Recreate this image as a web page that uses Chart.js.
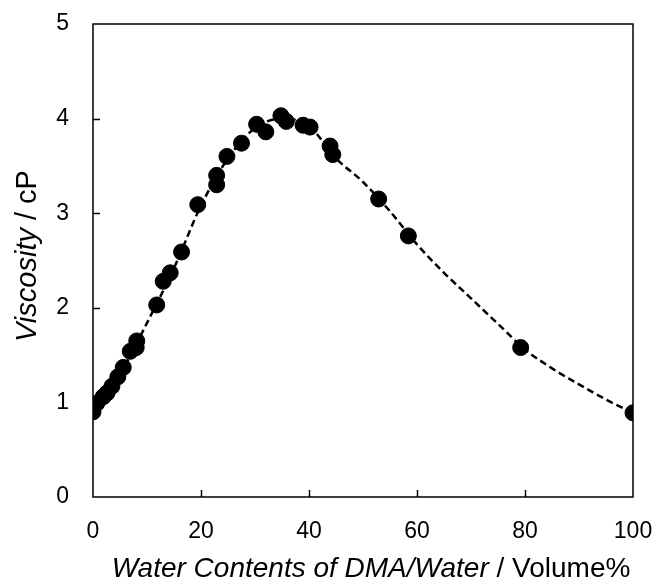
<!DOCTYPE html>
<html>
<head>
<meta charset="utf-8">
<script src="https://cdn.jsdelivr.net/npm/chart.js@4/dist/chart.umd.min.js"></script>
<style>
  html, body { margin: 0; padding: 0; background: #fff; }
  #wrap { width: 659px; height: 582px; }
</style>
</head>
<body>
<div id="wrap"><canvas id="myChart" width="659" height="582"></canvas></div>
<script>
// measured points: water content (vol%) and viscosity (cP)
var waterPct = [0, 0.7, 1.9, 2.6, 3.5, 4.6, 5.6, 6.9, 8.0, 8.1, 11.8, 13.0, 14.3, 16.4,
  19.4, 22.9, 22.9, 24.8, 27.5, 30.3, 32.0, 34.8, 35.8, 38.9, 40.2, 43.9, 44.4,
  52.9, 58.4, 79.2, 100];
var viscosity = [0.90, 0.99, 1.06, 1.10, 1.17, 1.27, 1.37, 1.54, 1.58, 1.65, 2.03, 2.28, 2.37, 2.59,
  3.09, 3.30, 3.40, 3.60, 3.74, 3.94, 3.86, 4.03, 3.97, 3.93, 3.91, 3.71, 3.62,
  3.15, 2.76, 1.58, 0.89];

// dashed trend curve
var curveX = [0, 5, 10, 15, 20, 25, 30, 35, 40, 45, 50, 55, 60, 65, 70, 75, 80, 85, 90, 95, 100];
var curveY = [0.92, 1.30, 1.84, 2.42, 3.08, 3.58, 3.90, 4.00, 3.92, 3.58, 3.33, 3.02, 2.67, 2.37,
  2.10, 1.83, 1.56, 1.36, 1.19, 1.03, 0.89];

var xTicks = [0, 20, 40, 60, 80, 100];
var yTicks = [0, 1, 2, 3, 4, 5];

var tickFont = { family: 'Liberation Sans, Arial', size: 23 };

function toXY(xs, ys) {
  return xs.map(function(x, i){ return { x: x, y: ys[i] }; });
}

// frame, inward ticks and axis titles with mixed italic text
var framePlugin = {
  id: 'frame',
  afterDraw: function(chart) {
    var c = chart.ctx, a = chart.chartArea;
    var sx = chart.scales.x, sy = chart.scales.y;
    c.save();
    c.strokeStyle = '#000';
    c.lineWidth = 1.5;
    c.strokeRect(a.left, a.top, a.right - a.left, a.bottom - a.top);
    c.beginPath();
    xTicks.slice(1, -1).forEach(function(v){
      var px = Math.round(sx.getPixelForValue(v)) + 0.5;
      c.moveTo(px, a.bottom); c.lineTo(px, a.bottom - 7);
    });
    yTicks.slice(1, -1).forEach(function(v){
      var py = Math.round(sy.getPixelForValue(v)) + 0.5;
      c.moveTo(a.left, py); c.lineTo(a.left + 7, py);
    });
    c.stroke();

    c.fillStyle = '#000';
    c.textBaseline = 'middle';
    // x title
    var it = 'italic 28px Liberation Sans, Arial', nm = '28px Liberation Sans, Arial';
    var p1 = 'Water Contents of DMA/Water', p2 = ' / Volume%';
    c.font = it; var w1 = c.measureText(p1).width;
    c.font = nm; var w2 = c.measureText(p2).width;
    var cx = 371, x0 = cx - (w1 + w2) / 2, ty = 569;
    c.font = it; c.textAlign = 'left'; c.fillText(p1, x0, ty);
    c.font = nm; c.fillText(p2, x0 + w1, ty);
    // y title
    it = 'italic 29px Liberation Sans, Arial'; nm = '29px Liberation Sans, Arial';
    var q1 = 'Viscosity', q2 = ' / cP';
    c.font = it; var v1 = c.measureText(q1).width;
    c.font = nm; var v2 = c.measureText(q2).width;
    c.translate(28, 256);
    c.rotate(-Math.PI / 2);
    var y0 = -(v1 + v2) / 2;
    c.font = it; c.fillText(q1, y0, 0);
    c.font = nm; c.fillText(q2, y0 + v1, 0);
    c.restore();
  }
};

var ctx = document.getElementById('myChart').getContext('2d');
var myChart = new Chart(ctx, {
  type: 'scatter',
  data: {
    datasets: [{
      type: 'line',
      data: toXY(curveX, curveY),
      borderColor: '#000',
      borderWidth: 2.5,
      borderDash: [7, 4],
      pointRadius: 0,
      tension: 0.4,
      cubicInterpolationMode: 'monotone',
      fill: false
    }, {
      data: toXY(waterPct, viscosity),
      backgroundColor: '#000',
      borderColor: '#000',
      pointRadius: 8,
      pointHoverRadius: 8
    }]
  },
  options: {
    responsive: false,
    animation: false,
    events: [],
    layout: { padding: { left: 0, right: 26, top: 24, bottom: 0 } },
    plugins: { legend: { display: false }, tooltip: { enabled: false } },
    scales: {
      x: {
        type: 'linear', min: 0, max: 100,
        afterBuildTicks: function(s){ s.ticks = xTicks.map(function(v){ return { value: v }; }); },
        afterFit: function(s){ s.height = 85; s.paddingLeft = 0; s.paddingRight = 0; },
        grid: { display: false },
        border: { display: false },
        ticks: { color: '#000', font: tickFont, padding: 13, maxRotation: 0 }
      },
      y: {
        type: 'linear', min: 0, max: 5,
        afterBuildTicks: function(s){ s.ticks = yTicks.map(function(v){ return { value: v }; }); },
        afterFit: function(s){ s.width = 93; s.paddingTop = 0; s.paddingBottom = 0; },
        grid: { display: false },
        border: { display: false },
        ticks: { color: '#000', font: tickFont, padding: 16 }
      }
    }
  },
  plugins: [framePlugin]
});
</script>
</body>
</html>
